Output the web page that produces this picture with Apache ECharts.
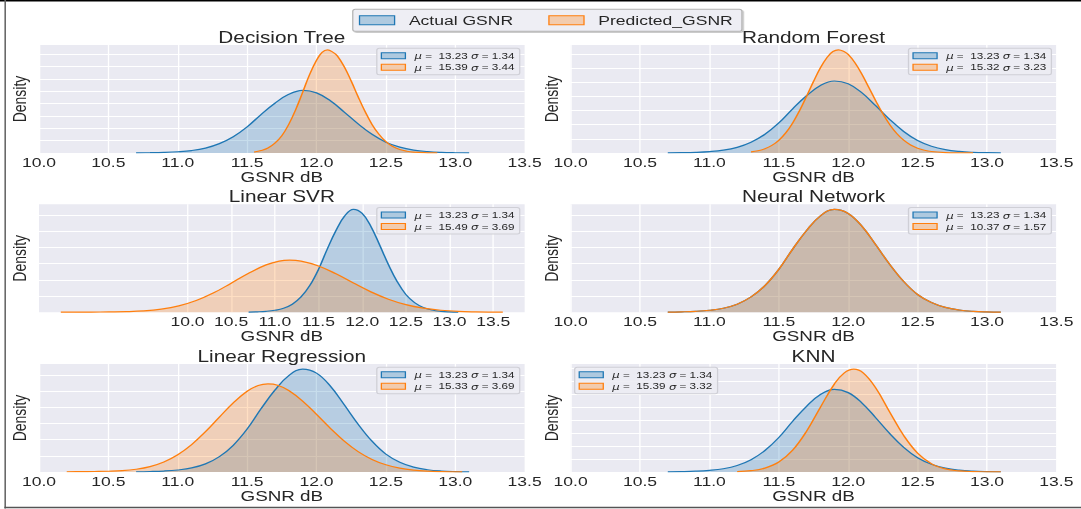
<!DOCTYPE html>
<html>
<head>
<meta charset="utf-8">
<script src="https://cdn.jsdelivr.net/npm/echarts@6.0.0/dist/echarts.min.js"></script>
<style>
  html, body { margin: 0; padding: 0; background: #fff; overflow: hidden; }
  /* the source figure is stretched sideways, so draw narrow and stretch */
  #chart { width: 832px; height: 509px; transform: scaleX(1.2993); transform-origin: 0 0; }
</style>
</head>
<body>
<div id="chart"></div>
<script>
var FONT = "'Liberation Sans', Arial, sans-serif";
var BLUE = '#1f77b4', ORANGE = '#ff7f0e';

// ---- data ----
var models = ['Decision Tree', 'Random Forest', 'Linear SVR', 'Neural Network', 'Linear Regression', 'KNN'];
var actualMu = 13.23, actualSigma = 1.34;
var predMu = [15.39, 15.32, 15.49, 10.37, 15.33, 15.39];
var predSigma = [3.44, 3.23, 3.69, 1.57, 3.69, 3.32];
var xTicks = [10, 10.5, 11, 11.5, 12, 12.5, 13, 13.5];

// actual GSNR density (same in every panel)
var actualX = [10.7, 10.8, 10.9, 11.0, 11.1, 11.2, 11.3, 11.4, 11.5, 11.6, 11.7, 11.8, 11.9,
               12.0, 12.1, 12.2, 12.3, 12.4, 12.5, 12.6, 12.7, 12.8, 12.9, 13.0, 13.1];
var actualY = [0.003, 0.006, 0.012, 0.025, 0.05, 0.10, 0.19, 0.33, 0.53, 0.78, 1.01, 1.19, 1.27,
               1.22, 1.06, 0.83, 0.59, 0.38, 0.22, 0.12, 0.06, 0.028, 0.012, 0.005, 0.002];

// predicted GSNR densities
var dtPredX = [11.55, 11.6, 11.65, 11.7, 11.75, 11.8, 11.85, 11.9, 11.95, 12.0, 12.04, 12.08, 12.12, 12.15,
               12.2, 12.25, 12.3, 12.35, 12.4, 12.45, 12.5, 12.55, 12.6, 12.65, 12.7, 12.8, 12.87];
var dtPredY = [0.02, 0.05, 0.10, 0.20, 0.35, 0.58, 0.88, 1.23, 1.59, 1.88, 2.04, 2.09, 2.04, 1.97,
               1.75, 1.46, 1.14, 0.84, 0.58, 0.38, 0.23, 0.13, 0.07, 0.036, 0.017, 0.004, 0.001];

var rfPredX = [11.3, 11.35, 11.4, 11.45, 11.5, 11.55, 11.6, 11.65, 11.7, 11.75, 11.8, 11.85, 11.89, 11.93, 11.97,
               12.0, 12.05, 12.1, 12.15, 12.2, 12.25, 12.3, 12.35, 12.4, 12.45, 12.5, 12.55, 12.6, 12.7, 12.8, 12.9];
var rfPredY = [0.02, 0.04, 0.075, 0.134, 0.224, 0.354, 0.53, 0.748, 0.999, 1.261, 1.503, 1.693, 1.79, 1.82, 1.79,
               1.738, 1.588, 1.385, 1.151, 0.914, 0.691, 0.499, 0.344, 0.226, 0.141, 0.085, 0.048, 0.026, 0.008, 0.002, 0.0005];

var lsvrPredX = [8.55, 8.7, 8.9, 9.1, 9.3, 9.5, 9.7, 9.9, 10.1, 10.3, 10.5, 10.7, 10.9, 11.05, 11.17,
                 11.3, 11.5, 11.7, 11.9, 12.1, 12.3, 12.5, 12.7, 12.9, 13.1, 13.3, 13.5, 13.61];
var lsvrPredY = [0.001, 0.002, 0.003, 0.005, 0.008, 0.017, 0.039, 0.079, 0.145, 0.24, 0.359, 0.482, 0.585, 0.632, 0.643,
                 0.631, 0.572, 0.475, 0.361, 0.252, 0.162, 0.095, 0.051, 0.025, 0.011, 0.005, 0.002, 0.001];

var nnPredX = [10.7, 10.8, 10.9, 11.0, 11.1, 11.2, 11.3, 11.4, 11.5, 11.6, 11.7, 11.8, 11.9,
               12.0, 12.1, 12.2, 12.3, 12.4, 12.5, 12.6, 12.7, 12.8, 12.9, 13.0, 13.1];
var nnPredY = [0.003, 0.006, 0.012, 0.025, 0.05, 0.10, 0.19, 0.33, 0.53, 0.78, 1.01, 1.19, 1.27,
               1.22, 1.06, 0.83, 0.59, 0.38, 0.22, 0.12, 0.06, 0.028, 0.012, 0.005, 0.002];

var lrPredX = [10.2, 10.3, 10.4, 10.5, 10.6, 10.7, 10.8, 10.9, 11.0, 11.1, 11.2, 11.3, 11.4, 11.5, 11.58, 11.65,
               11.72, 11.8, 11.9, 12.0, 12.1, 12.2, 12.3, 12.4, 12.5, 12.6, 12.7, 12.8, 12.9, 13.0, 13.05];
var lrPredY = [0.003, 0.004, 0.006, 0.009, 0.016, 0.034, 0.067, 0.124, 0.213, 0.338, 0.498, 0.678, 0.854, 0.997, 1.067, 1.087,
               1.071, 1.006, 0.876, 0.711, 0.539, 0.382, 0.252, 0.155, 0.089, 0.048, 0.024, 0.011, 0.005, 0.002, 0.001];

var knnPredX = [11.2, 11.3, 11.4, 11.5, 11.6, 11.7, 11.8, 11.9, 11.97, 12.04, 12.11,
                12.2, 12.3, 12.4, 12.5, 12.6, 12.7, 12.8, 12.9, 13.0, 13.1];
var knnPredY = [0.006, 0.02, 0.06, 0.153, 0.336, 0.627, 0.997, 1.351, 1.52, 1.58, 1.52,
                1.287, 0.92, 0.561, 0.291, 0.128, 0.048, 0.016, 0.006, 0.003, 0.001];

var predX = [dtPredX, rfPredX, lsvrPredX, nnPredX, lrPredX, knnPredX];
var predY = [dtPredY, rfPredY, lsvrPredY, nnPredY, lrPredY, knnPredY];

// axis limits per panel
var xRange = [[10, 13.5], [10, 13.5], [8.3, 13.86], [10, 13.5], [10, 13.5], [10, 13.5]];
var yMax = [2.19, 1.905, 1.333, 1.333, 1.333, 1.66];
var yStep = [0.25, 0.25, 0.2, 0.2, 0.2, 0.2];

// ---- layout (unstretched px) ----
var W = 832;
var colLeft = [30, 439.2], plotW = 373.8;
var rowTop = [45, 204.3, 364], plotH = 108;

function zip(xs, ys) {
  return xs.map(function (x, k) { return [x, ys[k]]; });
}
function statText(mu, sigma) {
  return '{i|μ} =  ' + mu.toFixed(2) + ' {i|σ} = ' + sigma.toFixed(2);
}
function legendItem(name, line, fill) {
  return { name: name, icon: 'rect', itemStyle: { color: fill, borderColor: line, borderWidth: 1 } };
}

var grids = [], xAxes = [], yAxes = [], series = [], titles = [], legends = [];

legends.push({
  left: 271.5, top: 9.3, orient: 'horizontal', selectedMode: false,
  itemWidth: 27, itemHeight: 9, itemGap: 27,
  padding: [4, 7, 4, 4.7],
  backgroundColor: 'rgba(238,238,244,1)', borderColor: '#b4b4b4', borderWidth: 1, borderRadius: 2,
  shadowColor: 'rgba(0,0,0,0.25)', shadowOffsetX: 1, shadowOffsetY: 1, shadowBlur: 1,
  textStyle: { fontSize: 13.5, fontFamily: FONT, color: '#262626', padding: [0, 0, 0, 6] },
  data: [legendItem('Actual GSNR', BLUE, 'rgba(31,119,180,0.3)'),
         legendItem('Predicted_GSNR', ORANGE, 'rgba(255,127,14,0.3)')]
});

models.forEach(function (name, i) {
  var c = i % 2, r = Math.floor(i / 2);
  var gl = colLeft[c], gt = rowTop[r];
  grids.push({ left: gl, top: gt, width: plotW, height: plotH, show: true,
               backgroundColor: '#EAEAF2', borderWidth: 0 });

  var xa = {
    gridIndex: i, type: 'value', min: xRange[i][0], max: xRange[i][1],
    axisLine: { show: false }, axisTick: { show: false },
    axisLabel: { fontSize: 13.5, fontFamily: FONT, color: '#262626', margin: 2,
                 formatter: function (v) { return v.toFixed(1); } },
    splitLine: { show: true, lineStyle: { color: '#ffffff', width: 1 } },
    name: 'GSNR dB', nameLocation: 'middle', nameGap: 15,
    nameTextStyle: { fontSize: 14.5, fontFamily: FONT, color: '#262626' }
  };
  if (xRange[i][0] === 10) {
    xa.interval = 0.5;
  } else {
    // this panel was autoscaled, ticks only from 10 to 13.5
    xa.axisTick.customValues = xTicks;
    xa.axisLabel.customValues = xTicks;
  }
  xAxes.push(xa);

  yAxes.push({
    gridIndex: i, type: 'value', min: 0, max: yMax[i], interval: yStep[i],
    axisLine: { show: false }, axisTick: { show: false }, axisLabel: { show: false },
    splitLine: { show: true, showMinLine: false, showMaxLine: false,
                 lineStyle: { color: '#ffffff', width: 1 } },
    name: 'Density', nameLocation: 'middle', nameGap: 8,
    nameTextStyle: { fontSize: 14, fontFamily: FONT, color: '#262626' }
  });

  titles.push({
    text: name, left: gl + plotW / 2, top: gt - 16, textAlign: 'center', padding: 0,
    textStyle: { fontSize: 16, fontWeight: 'normal', fontFamily: FONT, color: '#262626' }
  });

  series.push({
    type: 'line', name: 'Actual GSNR', xAxisIndex: i, yAxisIndex: i,
    data: zip(actualX, actualY), smooth: 0.4, symbol: 'none', silent: true,
    lineStyle: { color: BLUE, width: 1.2 }, itemStyle: { color: BLUE },
    areaStyle: { color: BLUE, opacity: 0.25 }
  });
  series.push({
    type: 'line', name: 'Predicted_GSNR', xAxisIndex: i, yAxisIndex: i,
    data: zip(predX[i], predY[i]), smooth: 0.4, symbol: 'none', silent: true,
    lineStyle: { color: ORANGE, width: 1.2 }, itemStyle: { color: ORANGE },
    areaStyle: { color: ORANGE, opacity: 0.25 }
  });

  var lg = {
    top: gt + 3.3, orient: 'vertical', selectedMode: false,
    itemWidth: 18.5, itemHeight: 6, itemGap: 2.5,
    padding: [3, 4, 3, 3],
    backgroundColor: 'rgba(236,236,243,0.9)', borderColor: '#cfcfd6', borderWidth: 1, borderRadius: 2,
    textStyle: {
      fontSize: 9, fontFamily: FONT, color: '#262626', padding: [0, 0, 0, 2],
      rich: { i: { fontSize: 9, fontStyle: 'italic', fontFamily: "'DejaVu Sans', sans-serif", color: '#262626' } }
    },
    data: [legendItem('Actual GSNR', BLUE, 'rgba(31,119,180,0.3)'),
           legendItem('Predicted_GSNR', ORANGE, 'rgba(255,127,14,0.3)')],
    formatter: (function (k) {
      return function (n) {
        return n === 'Actual GSNR' ? statText(actualMu, actualSigma) : statText(predMu[k], predSigma[k]);
      };
    })(i)
  };
  if (i === 5) {
    lg.left = gl + 3.1;
  } else {
    lg.right = W - (gl + plotW - 3.8);
  }
  legends.push(lg);
});

var chart = echarts.init(document.getElementById('chart'), null, { renderer: 'svg' });
chart.setOption({
  animation: false,
  backgroundColor: '#ffffff',
  title: titles,
  legend: legends,
  grid: grids,
  xAxis: xAxes,
  yAxis: yAxes,
  series: series,
  graphic: [
    { type: 'rect', shape: { x: 0, y: 0, width: W, height: 1.6 }, style: { fill: '#000' }, silent: true },
    { type: 'rect', shape: { x: 3.4, y: 0, width: 1.2, height: 508.5 }, style: { fill: '#666' }, silent: true },
    { type: 'rect', shape: { x: 3.4, y: 506.8, width: W, height: 1.5 }, style: { fill: '#555' }, silent: true }
  ]
});
</script>
</body>
</html>
